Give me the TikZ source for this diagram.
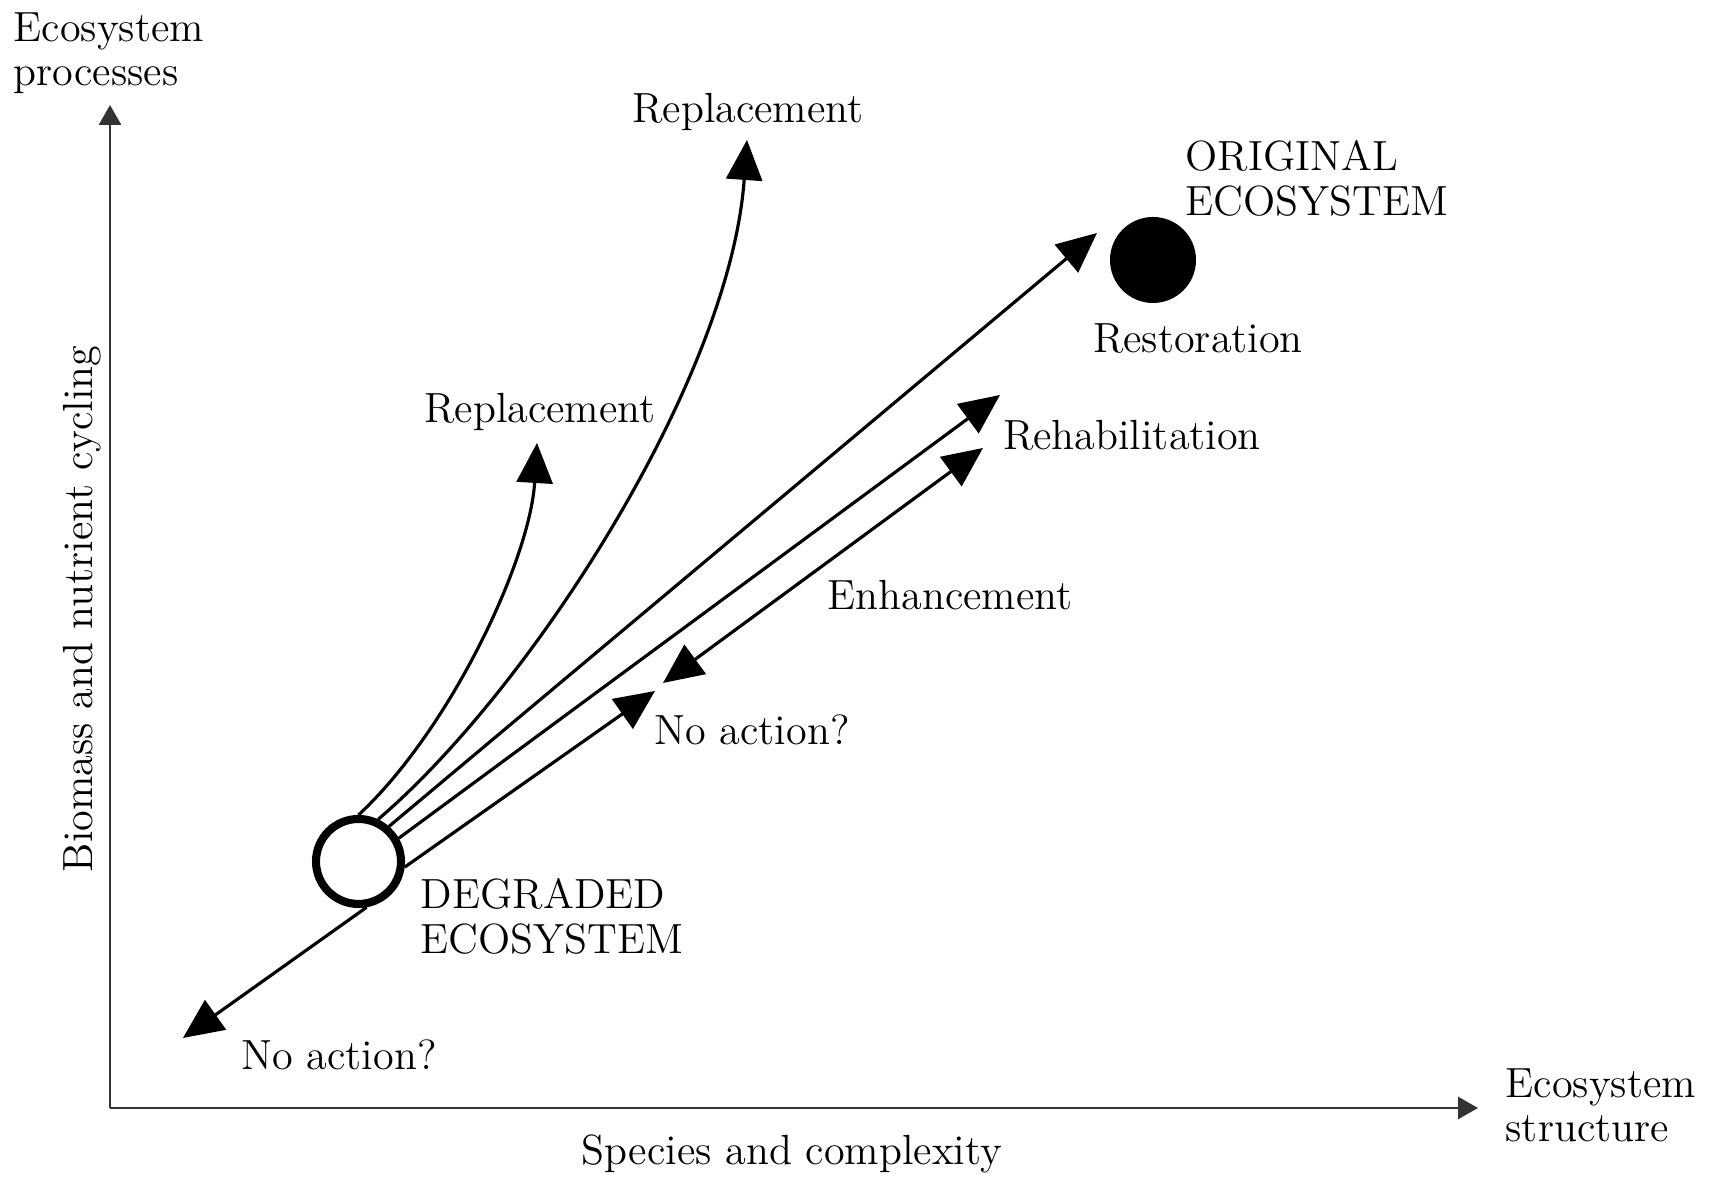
\documentclass[tikz,border=0pt]{standalone}
\usetikzlibrary{arrows.meta}

\begin{document}
\begin{tikzpicture}[
        lbl/.style={font=\fontsize{12}{12.6}\selectfont, inner sep=0pt},
        flow/.style={line width=0.9pt, -{Triangle[length=0.4cm,width=0.36cm]}},
        both/.style={line width=0.9pt, {Triangle[length=0.4cm,width=0.36cm]}-{Triangle[length=0.4cm,width=0.36cm]}},
        axis/.style={line width=0.8pt, black!80, -{Triangle[length=0.2cm,width=0.22cm]}}
    ]
        \useasboundingbox (0,0) rectangle (17.2,11.79);

        % Axes
        \coordinate (O) at (1.10,0.71);
        \coordinate (ytip) at (1.10,10.74);
        \coordinate (xtip) at (14.78,0.71);
        \draw[axis] (O) -- (ytip);
        \draw[axis] (O) -- (xtip);
        \node[lbl, anchor=north west, align=left] (proc) at (0.13,11.67) {Ecosystem\\processes};
        \node[lbl, anchor=north west, align=left] (struct) at (15.05,1.11) {Ecosystem\\structure};
        \node[lbl, anchor=base] (species) at (7.92,0.14) {Species and complexity};
        \node[lbl, anchor=base, rotate=90] (biomass) at (0.92,5.70) {Biomass and nutrient cycling};

        % Ecosystem states
        \node[circle, draw, line width=2.3pt, fill=white, minimum size=0.85cm, inner sep=0pt] (deg) at (3.585,3.175) {};
        \node[circle, fill=black, minimum size=0.86cm, inner sep=0pt] (orig) at (11.53,9.19) {};
        \node[lbl, anchor=north west, align=left] (deglbl) at (4.20,3.01) {DEGRADED\\ECOSYSTEM};
        \node[lbl, anchor=north west, align=left] (origlbl) at (11.85,10.39) {ORIGINAL\\ECOSYSTEM};

        % Arrow tips
        \coordinate (rtop) at (7.47,10.39);
        \coordinate (rlow) at (5.37,7.36);
        \coordinate (rest) at (10.97,9.46);
        \coordinate (rehab) at (10.00,7.84);
        \coordinate (enhA) at (9.83,7.31);
        \coordinate (enhB) at (6.63,4.96);
        \coordinate (noA) at (6.55,4.88);
        \coordinate (noB) at (1.83,1.41);

        % Pathways
        \draw[flow] (deg.65) .. controls (5.30,4.89) and (7.30,7.99) .. (rtop);
        \draw[flow] (deg.90) .. controls (4.50,4.49) and (5.30,6.19) .. (rlow);
        \draw[flow] (deg.49) -- (rest);
        \draw[flow] (deg.30) -- (rehab);
        \draw[both] (enhB) -- (enhA);
        \draw[flow] (deg.-7) -- (noA);
        \draw[flow] (deg.-80) -- (noB);

        \node[lbl, anchor=base] (repltop) at (7.48,10.56) {Replacement};
        \node[lbl, anchor=base] (repllow) at (5.40,7.56) {Replacement};
        \node[lbl, anchor=base] (restlbl) at (11.98,8.26) {Restoration};
        \node[lbl, anchor=base] (rehablbl) at (11.32,7.29) {Rehabilitation};
        \node[lbl, anchor=base] (enhlbl) at (9.50,5.69) {Enhancement};
        \node[lbl, anchor=base] (nomid) at (7.52,4.34) {No action?};
        \node[lbl, anchor=base] (nolow) at (3.39,1.09) {No action?};
    \end{tikzpicture}
\end{document}
